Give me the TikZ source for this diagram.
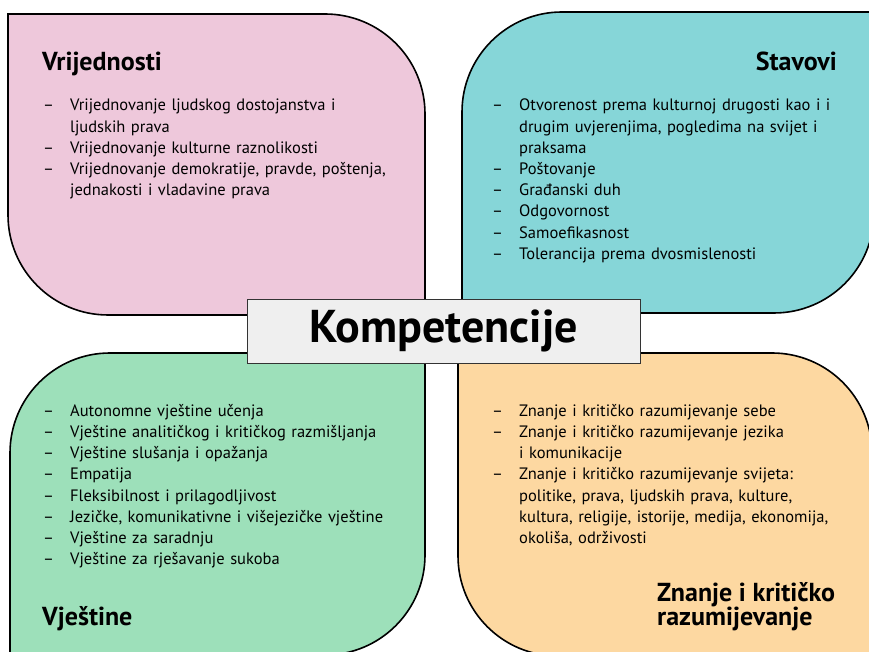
\documentclass[tikz,border=0pt]{standalone}
\usepackage{fontspec}
\setmainfont{PT Sans}
\usetikzlibrary{positioning}
\definecolor{rozaboja}{RGB}{238,200,219}
\definecolor{tirkiz}{RGB}{134,214,216}
\definecolor{zelena}{RGB}{157,224,186}
\definecolor{narandz}{RGB}{253,216,161}
\definecolor{sivkasta}{RGB}{239,239,239}
\newcommand{\stavka}[1]{\noindent\hangindent=27pt\hangafter=1\makebox[27pt][l]{–}#1\par}

\begin{document}
\begin{tikzpicture}[x=1pt, y=1pt,
  blob/.style={draw=black, line width=1.6pt},
  naslov/.style={font=\fontsize{26}{23}\selectfont\bfseries, inner sep=0pt, align=left},
  lista/.style={font=\fontsize{16.5}{21.2}\selectfont, inner sep=0pt, align=left,
                text width=375pt, anchor=north west}]
\useasboundingbox (0,0) rectangle (869,652);
\fill[white] (0,0) rectangle (869,652);
% the four quarters
\draw[blob, fill=rozaboja] (8,638) -- (325,638) arc[start angle=90, end angle=0, radius=100]
  -- (425,337) -- (108,337) arc[start angle=270, end angle=180, radius=100] -- cycle;
\draw[blob, fill=tirkiz] (462,339) -- (462,540) arc[start angle=180, end angle=90, radius=100]
  -- (874,640) -- (874,439) arc[start angle=0, end angle=-90, radius=100] -- cycle;
\draw[blob, fill=zelena] (10,-4) -- (10,199) arc[start angle=180, end angle=90, radius=100]
  -- (425,299) -- (425,97) arc[start angle=0, end angle=-90, radius=100] -- cycle;
\draw[blob, fill=narandz] (458,299) -- (772,299) arc[start angle=90, end angle=0, radius=100]
  -- (874,-4) -- (558,-4) arc[start angle=270, end angle=180, radius=100] -- cycle;
% titles
\node[naslov, anchor=base west] (vrij) at (42,581) {Vrijednosti};
\node[naslov, anchor=base east] (stav) at (837,581) {Stavovi};
\node[naslov, anchor=base west] (vjes) at (42,26) {Vještine};
\node[naslov, anchor=base west] (znan) at (657,26) {Znanje i kritičko\\razumijevanje};
% lists
\node[lista] (vrijl) at (43,553) {%
  \stavka{Vrijednovanje ljudskog dostojanstva i\newline ljudskih prava}
  \stavka{Vrijednovanje kulturne raznolikosti}
  \stavka{Vrijednovanje demokratije, pravde, poštenja,\newline jednakosti i vladavine prava}};
\node[lista] (stavl) at (492,553) {%
  \stavka{Otvorenost prema kulturnoj drugosti kao i i\newline drugim uvjerenjima, pogledima na svijet i\newline praksama}
  \stavka{Poštovanje}
  \stavka{Građanski duh}
  \stavka{Odgovornost}
  \stavka{Samoefikasnost}
  \stavka{Tolerancija prema dvosmislenosti}};
\node[lista] (vjesl) at (43,248) {%
  \stavka{Autonomne vještine učenja}
  \stavka{Vještine analitičkog i kritičkog razmišljanja}
  \stavka{Vještine slušanja i opažanja}
  \stavka{Empatija}
  \stavka{Fleksibilnost i prilagodljivost}
  \stavka{Jezičke, komunikativne i višejezičke vještine}
  \stavka{Vještine za saradnju}
  \stavka{Vještine za rješavanje sukoba}};
\node[lista] (znanl) at (492,248) {%
  \stavka{Znanje i kritičko razumijevanje sebe}
  \stavka{Znanje i kritičko razumijevanje jezika\newline i komunikacije}
  \stavka{Znanje i kritičko razumijevanje svijeta:\newline politike, prava, ljudskih prava, kulture,\newline kultura, religije, istorije, medija, ekonomija,\newline okoliša, održivosti}};
% centre label
\node[draw=black!80, line width=0.8pt, fill=sivkasta, minimum width=393pt, minimum height=64pt,
      font=\fontsize{46}{48}\selectfont\bfseries] (komp) at (443.5,321) {Kompetencije};
\end{tikzpicture}
\end{document}
